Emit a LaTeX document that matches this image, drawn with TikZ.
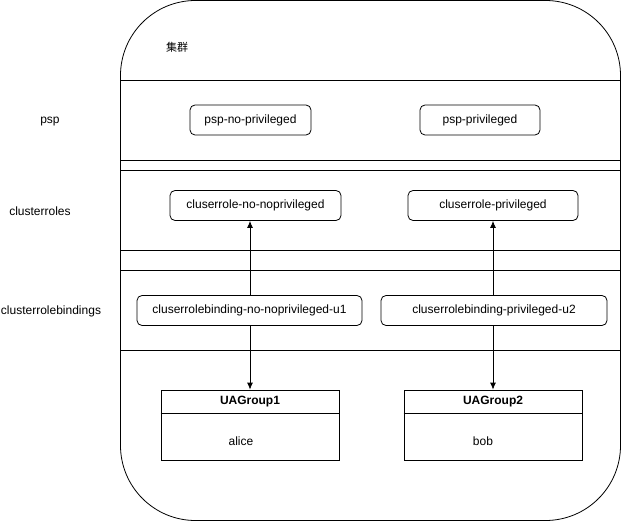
\documentclass[tikz,border=0pt]{standalone}
\usepackage{fontspec}
\setmainfont{Liberation Sans}
\newfontfamily\cjkfont{Noto Sans CJK SC}
\usetikzlibrary{arrows.meta}
\begin{document}
\begin{tikzpicture}[x=1pt,y=-1pt,
  font=\fontsize{12}{14}\selectfont,
  line width=0.8pt,
  item/.style={draw, rounded corners=5pt, inner sep=0pt, minimum height=30pt},
  grp/.style={draw, inner sep=0pt},
  lane/.style={line width=0.8pt},
  link/.style={-{Latex[length=7pt,width=6pt]}, line width=0.8pt}
]
\useasboundingbox (0,0) rectangle (621,521);

% cluster outline
\draw[rounded corners=75pt] (120.5,0.5) rectangle (620.5,520.5);
\node (title) at (177,47) {\cjkfont\fontsize{11}{13}\selectfont 集群};

% lane separators
\foreach \yy in {80,160,170,250,270,350}
  \draw[lane] (120.5,\yy) -- (620.5,\yy);

% lane labels
\node (lpsp) at (50,122) {psp};
\node (lcr) at (40,211) {clusterroles};
\node (lcrb) at (51,311) {clusterrolebindings};

% psp
\node[item, minimum width=121pt] (pspno) at (250.5,120) {psp-no-privileged};
\node[item, minimum width=120pt] (psppr) at (480,120) {psp-privileged};

% cluster roles
\node[item, minimum width=171pt] (crno) at (255.5,205.5) {cluserrole-no-noprivileged};
\node[item, minimum width=170pt] (crpr) at (493,205.5) {cluserrole-privileged};

% cluster role bindings
\node[item, minimum width=225pt] (crbno) at (249.5,310.5) {cluserrolebinding-no-noprivileged-u1};
\node[item, minimum width=226pt] (crbpr) at (494,310.5) {cluserrolebinding-privileged-u2};

% user groups
\node[grp, minimum width=178pt, minimum height=70pt] (g1) at (250,425) {};
\draw (g1.west |- 0,413) -- (g1.east |- 0,413);
\node[font=\fontsize{12}{14}\selectfont\bfseries] (g1t) at (250,402) {UAGroup1};
\node (g1u) at (241,441) {alice};

\node[grp, minimum width=178pt, minimum height=70pt] (g2) at (493,425) {};
\draw (g2.west |- 0,413) -- (g2.east |- 0,413);
\node[font=\fontsize{12}{14}\selectfont\bfseries] (g2t) at (493,402) {UAGroup2};
\node (g2u) at (483,441) {bob};

% bindings
\draw[link] (crbno.north -| 250,0) -- (crno.south -| 250,0);
\draw[link] (crbno.south -| 250,0) -- (g1.north -| 250,0);
\draw[link] (crbpr.north -| 493,0) -- (crpr.south -| 493,0);
\draw[link] (crbpr.south -| 493,0) -- (g2.north -| 493,0);
\end{tikzpicture}
\end{document}
